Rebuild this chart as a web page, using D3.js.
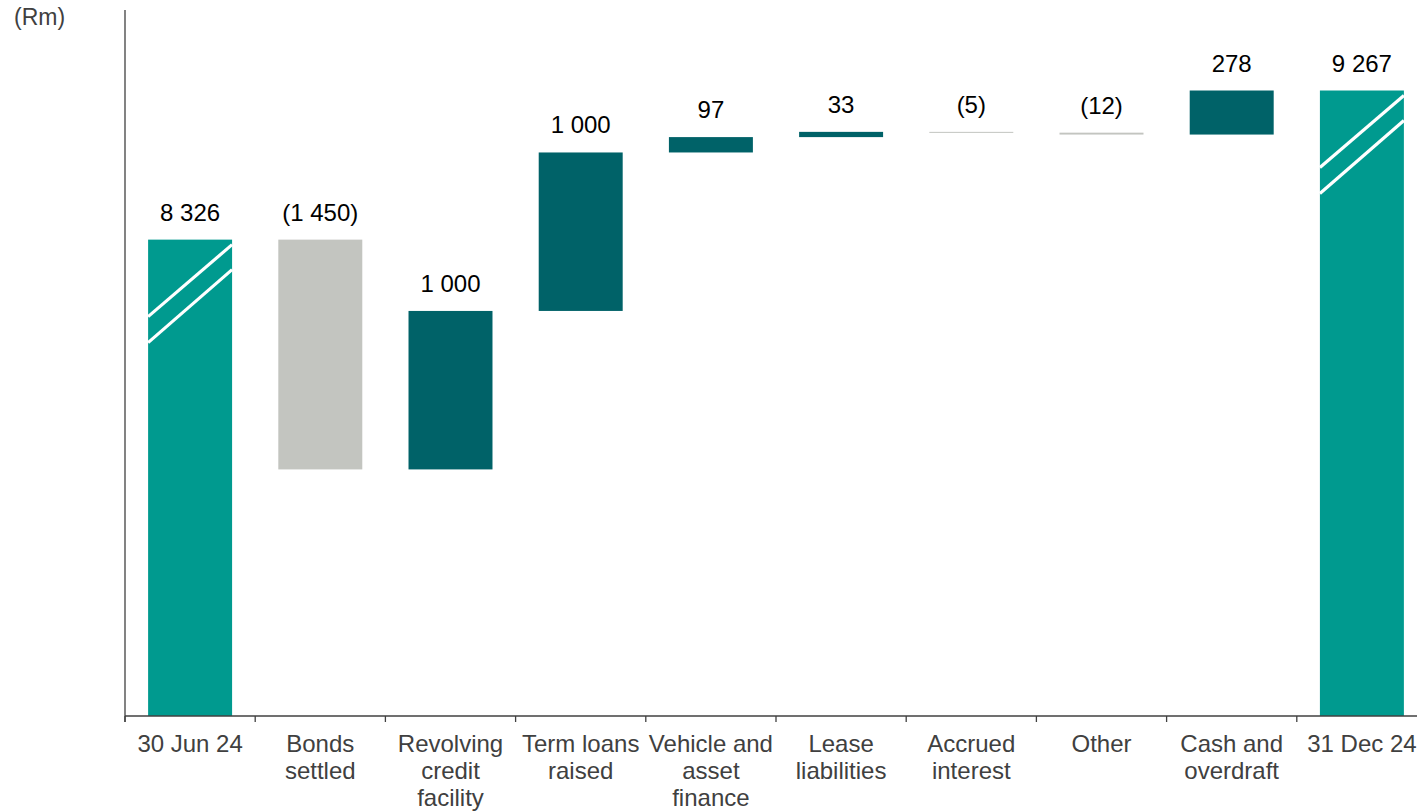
<!DOCTYPE html>
<html>
<head>
<meta charset="utf-8">
<script src="https://cdn.jsdelivr.net/npm/d3@7"></script>
<style>
  html, body { margin: 0; padding: 0; background: #fff; }
  svg { display: block; font-family: "Liberation Sans", Arial, sans-serif; }
</style>
</head>
<body>
<svg id="chart" width="1417" height="811"></svg>
<script>
// Movement in borrowings, 30 Jun 24 to 31 Dec 24 (Rm)
const categories = [
  "30 Jun 24", "Bonds\nsettled", "Revolving\ncredit\nfacility", "Term loans\nraised",
  "Vehicle and\nasset\nfinance", "Lease\nliabilities", "Accrued\ninterest", "Other",
  "Cash and\noverdraft", "31 Dec 24"
];
const values = [8326, -1450, 1000, 1000, 97, 33, -5, -12, 278, 9267];
const kinds  = ["total", "delta", "delta", "delta", "delta", "delta", "delta", "delta", "delta", "total"];
// The value axis is broken: it starts above zero and ends just over the closing balance
const yDomain = [5320, 9775];
const unitLabel = "(Rm)";

const colors = { total: "#009a8f", up: "#006268", down: "#c3c5c0" };

const svg = d3.select("#chart");
const plot = { left: 125, right: 1427, top: 10, bottom: 716 };

const x = d3.scaleBand()
  .domain(d3.range(categories.length))
  .range([plot.left, plot.right])
  .paddingInner(0.355)
  .paddingOuter(0.1775);

const y = d3.scaleLinear().domain(yDomain).range([plot.bottom, plot.top]);

// Running totals for the waterfall
let running = 0;
const bars = values.map((v, i) => {
  let lo, hi, kind;
  if (kinds[i] === "total") {
    running = v;
    lo = yDomain[0]; hi = v; kind = "total";
  } else {
    const start = running;
    running += v;
    lo = Math.min(start, running); hi = Math.max(start, running);
    kind = v >= 0 ? "up" : "down";
  }
  return { i, v, lo, hi, kind, labelLevel: kinds[i] === "total" ? v : Math.max(lo, hi) };
});

const fmt = v => {
  const s = d3.format(",")(Math.abs(v)).replace(/,/g, " ");
  return v < 0 ? "(" + s + ")" : s;
};

// Bars
svg.append("g").selectAll("rect")
  .data(bars)
  .join("rect")
  .attr("x", d => x(d.i))
  .attr("width", x.bandwidth())
  .attr("y", d => y(d.hi))
  .attr("height", d => Math.max(1, y(d.lo) - y(d.hi)))
  .attr("fill", d => colors[d.kind]);

// Axis-break marks across the balance bars
const breaks = svg.append("g");
bars.filter(d => d.kind === "total").forEach(d => {
  const x0 = x(d.i), x1 = x(d.i) + x.bandwidth(), top = y(d.hi);
  [[77, 5], [103, 30]].forEach(([a, b]) => {
    breaks.append("line")
      .attr("x1", x0).attr("y1", top + a)
      .attr("x2", x1).attr("y2", top + b)
      .attr("stroke", "#fff").attr("stroke-width", 3.2);
  });
});

// Value labels
svg.append("g").selectAll("text")
  .data(bars)
  .join("text")
  .attr("x", d => x(d.i) + x.bandwidth() / 2)
  .attr("y", d => y(d.labelLevel) - 19)
  .attr("text-anchor", "middle")
  .attr("font-size", 24)
  .attr("fill", "#000")
  .text(d => fmt(d.v));

// Axes
const axisColor = "#404040";
svg.append("line")
  .attr("x1", plot.left).attr("x2", plot.left)
  .attr("y1", plot.top).attr("y2", plot.bottom + 6)
  .attr("stroke", axisColor).attr("stroke-width", 1.3);
svg.append("line")
  .attr("x1", plot.left).attr("x2", plot.right)
  .attr("y1", plot.bottom).attr("y2", plot.bottom)
  .attr("stroke", axisColor).attr("stroke-width", 1.3);

const step = x.step();
const boundaries = d3.range(categories.length + 1).map(k => plot.left + k * step);
svg.append("g").selectAll("line")
  .data(boundaries)
  .join("line")
  .attr("x1", d => d).attr("x2", d => d)
  .attr("y1", plot.bottom).attr("y2", plot.bottom + 6)
  .attr("stroke", axisColor).attr("stroke-width", 1.3);

// Category labels
const catG = svg.append("g")
  .attr("font-size", 24)
  .attr("fill", "#404040")
  .attr("text-anchor", "middle");
categories.forEach((c, i) => {
  const t = catG.append("text")
    .attr("x", x(i) + x.bandwidth() / 2)
    .attr("y", 752);
  c.split("\n").forEach((line, k) => {
    t.append("tspan")
      .attr("x", x(i) + x.bandwidth() / 2)
      .attr("dy", k === 0 ? 0 : 27)
      .text(line);
  });
});

// Unit label
svg.append("text")
  .attr("x", 14).attr("y", 25)
  .attr("font-size", 23)
  .attr("fill", "#404040")
  .text(unitLabel);
</script>
</body>
</html>
